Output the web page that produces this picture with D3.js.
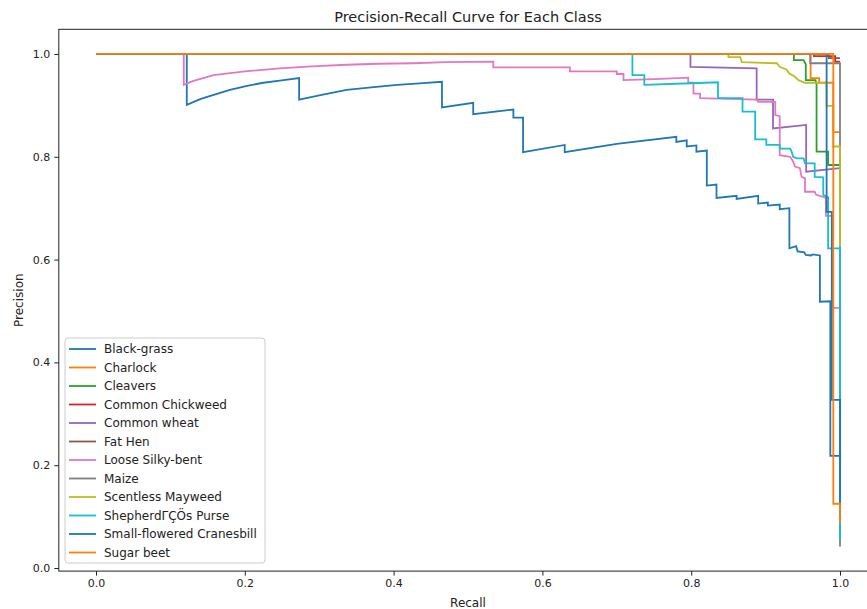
<!DOCTYPE html>
<html>
<head>
<meta charset="utf-8">
<script src="https://cdn.jsdelivr.net/npm/d3@7"></script>
<style>
  html, body { margin: 0; padding: 0; background: #fff; }
  svg { display: block; font-family: "DejaVu Sans", sans-serif; }
</style>
</head>
<body>
<svg id="chart" width="867" height="609"></svg>
<script>
// ---------- data (recall, precision) ----------
const classNames = ["Black-grass", "Charlock", "Cleavers", "Common Chickweed", "Common wheat",
  "Fat Hen", "Loose Silky-bent", "Maize", "Scentless Mayweed", "ShepherdΓÇÖs Purse",
  "Small-flowered Cranesbill", "Sugar beet"];

const blackGrass = [[0,1],[0.122,1],[0.122,0.901],[0.14,0.912],[0.157,0.920],[0.18,0.930],[0.203,0.938],
  [0.225,0.944],[0.247,0.948],[0.273,0.953],[0.273,0.911],[0.305,0.921],[0.337,0.930],[0.37,0.935],
  [0.405,0.940],[0.435,0.943],[0.465,0.946],[0.465,0.896],[0.507,0.905],[0.507,0.883],[0.561,0.892],
  [0.561,0.876],[0.574,0.876],[0.574,0.809],[0.630,0.823],[0.630,0.809],[0.70,0.825],[0.780,0.839],
  [0.780,0.829],[0.794,0.832],[0.794,0.820],[0.807,0.822],[0.807,0.810],[0.821,0.812],[0.821,0.744],
  [0.834,0.746],[0.834,0.720],[0.861,0.724],[0.861,0.718],[0.890,0.724],[0.890,0.709],[0.903,0.711],
  [0.903,0.705],[0.919,0.707],[0.919,0.698],[0.932,0.700],[0.932,0.622],[0.941,0.626],[0.943,0.616],
  [0.952,0.614],[0.954,0.609],[0.961,0.608],[0.963,0.610],[0.973,0.608],[0.973,0.518],[0.987,0.519],
  [0.987,0.218],[1.0,0.218]];
const charlock = [[0,1],[0.9605,1],[0.9605,0.953],[0.972,0.953],[0.972,0.944],[0.991,0.944],
  [0.991,0.848],[1.0,0.848]];
const cleavers = [[0,1],[0.938,1],[0.938,0.988],[0.951,0.988],[0.954,0.980],[0.954,0.949],[0.967,0.949],
  [0.9685,0.941],[0.9685,0.810],[0.984,0.810],[0.984,0.784],[1.0,0.784]];
const commonChickweed = [[0,1],[0.965,1],[0.965,0.996],[0.9935,0.996],[0.9935,0.985],[1.0,0.985]];
const commonWheat = [[0,1],[0.799,1],[0.799,0.975],[0.888,0.972],[0.888,0.911],[0.910,0.911],
  [0.910,0.855],[0.9545,0.862],[0.9545,0.771],[1.0,0.778]];
const fatHen = [[0,1],[0.985,1],[0.985,0.992],[1.0,0.992]];
const looseSilkyBent = [[0,1],[0.118,1],[0.118,0.940],[0.13,0.947],[0.158,0.959],[0.2,0.966],
  [0.247,0.972],[0.29,0.976],[0.337,0.979],[0.38,0.981],[0.426,0.982],[0.47,0.984],[0.534,0.985],
  [0.534,0.974],[0.637,0.974],[0.637,0.966],[0.700,0.966],[0.700,0.961],[0.709,0.961],[0.709,0.949],
  [0.75,0.951],[0.796,0.954],[0.796,0.944],[0.803,0.944],[0.803,0.923],[0.812,0.923],[0.812,0.914],
  [0.888,0.911],[0.890,0.907],[0.913,0.907],[0.913,0.881],[0.919,0.879],[0.919,0.803],[0.933,0.800],
  [0.937,0.791],[0.9395,0.781],[0.946,0.778],[0.9485,0.761],[0.953,0.758],[0.953,0.732],[0.966,0.732],
  [0.968,0.726],[0.9775,0.722],[0.981,0.720],[0.981,0.685],[0.99,0.685],[0.99,0.506],[1.0,0.506]];
const maize = [[0,1],[0.960,1],[0.960,0.982],[1.0,0.982],[1.0,0.042]];
const scentlessMayweed = [[0,1],[0.850,1],[0.850,0.994],[0.866,0.994],[0.868,0.984],[0.915,0.982],
  [0.919,0.975],[0.928,0.970],[0.932,0.962],[0.939,0.956],[0.944,0.949],[0.953,0.944],[0.982,0.944],
  [0.982,0.899],[0.991,0.899],[0.991,0.820],[1.0,0.820],[1.0,0.625]];
const shepherdsPurse = [[0,1],[0.721,1],[0.721,0.959],[0.737,0.959],[0.737,0.940],[0.80,0.943],
  [0.836,0.945],[0.836,0.914],[0.869,0.914],[0.869,0.888],[0.886,0.888],[0.886,0.834],[0.901,0.834],
  [0.901,0.823],[0.919,0.823],[0.919,0.816],[0.933,0.816],[0.935,0.810],[0.937,0.800],[0.942,0.797],
  [0.951,0.797],[0.953,0.787],[0.966,0.787],[0.966,0.761],[0.9775,0.760],[0.9775,0.726],[0.984,0.721],
  [0.984,0.622],[1.0,0.622],[1.0,0.054]];
const smallFloweredCranesbill = [[0,1],[0.982,1],[0.982,0.693],[0.989,0.693],[0.989,0.327],
  [1.0,0.327],[1.0,0.100]];
const sugarBeet = [[0,1],[0.991,1],[0.991,0.125],[1.0,0.125],[1.0,0.087]];

const xTickValues = [0.0, 0.2, 0.4, 0.6, 0.8, 1.0];
const yTickValues = [0.0, 0.2, 0.4, 0.6, 0.8, 1.0];

// ---------- styles ----------
const palette = ["#1f77b4","#ff7f0e","#2ca02c","#d62728","#9467bd","#8c564b","#e377c2","#7f7f7f",
  "#bcbd22","#17becf","#1f77b4","#ff7f0e"];
const curves = [blackGrass, charlock, cleavers, commonChickweed, commonWheat, fatHen, looseSilkyBent,
  maize, scentlessMayweed, shepherdsPurse, smallFloweredCranesbill, sugarBeet];
const series = classNames.map((name, i) => ({ name, points: curves[i], color: palette[i] }));

// ---------- layout ----------
const svg = d3.select("#chart");
const plot = { left: 58.8, right: 877.2, top: 29.3, bottom: 571.1 };

const x = d3.scaleLinear().domain([-0.05, 1.05]).range([plot.left, plot.right]);
const y = d3.scaleLinear().domain([-0.006, 1.048]).range([plot.bottom, plot.top]);

svg.append("defs").append("clipPath").attr("id", "clip")
  .append("rect").attr("x", plot.left).attr("y", plot.top)
  .attr("width", plot.right - plot.left).attr("height", plot.bottom - plot.top);

const line = d3.line().x(d => x(d[0])).y(d => y(d[1]));

const gLines = svg.append("g").attr("clip-path", "url(#clip)");
series.forEach(s => {
  gLines.append("path")
    .datum(s.points)
    .attr("fill", "none")
    .attr("stroke", s.color)
    .attr("stroke-width", 1.8)
    .attr("stroke-linejoin", "miter")
    .attr("stroke-linecap", "butt")
    .attr("d", line);
});

// frame
svg.append("rect")
  .attr("x", plot.left).attr("y", plot.top)
  .attr("width", plot.right - plot.left).attr("height", plot.bottom - plot.top)
  .attr("fill", "none").attr("stroke", "#222").attr("stroke-width", 1);

// axes
const fmt = d3.format(".1f");
const xAxis = svg.append("g")
  .attr("transform", `translate(0,${plot.bottom})`)
  .call(d3.axisBottom(x).tickValues(xTickValues).tickFormat(fmt).tickSize(4.5).tickPadding(4));
const yAxis = svg.append("g")
  .attr("transform", `translate(${plot.left},0)`)
  .call(d3.axisLeft(y).tickValues(yTickValues).tickFormat(fmt).tickSize(4.5).tickPadding(4));
[xAxis, yAxis].forEach(a => {
  a.select(".domain").remove();
  a.selectAll(".tick line").attr("stroke", "#222").attr("stroke-width", 1);
  a.selectAll(".tick text").attr("fill", "#222")
    .style("font-family", "DejaVu Sans").style("font-size", "11px");
});

// title & axis labels
svg.append("text")
  .attr("x", (plot.left + plot.right) / 2).attr("y", 22)
  .attr("text-anchor", "middle").style("font-size", "14.5px").attr("fill", "#222")
  .text("Precision-Recall Curve for Each Class");
svg.append("text")
  .attr("x", (plot.left + plot.right) / 2).attr("y", 607)
  .attr("text-anchor", "middle").style("font-size", "12px").attr("fill", "#222")
  .text("Recall");
svg.append("text")
  .attr("transform", `translate(23,${(plot.top + plot.bottom) / 2}) rotate(-90)`)
  .attr("text-anchor", "middle").style("font-size", "12px").attr("fill", "#222")
  .text("Precision");

// legend
const leg = { x: 65, y: 338, w: 200, h: 225, row: 18.5, first: 349 };
svg.append("rect")
  .attr("x", leg.x).attr("y", leg.y).attr("width", leg.w).attr("height", leg.h)
  .attr("rx", 3).attr("ry", 3)
  .attr("fill", "#fff").attr("fill-opacity", 0.8)
  .attr("stroke", "#cccccc").attr("stroke-width", 1);
const items = svg.append("g").selectAll("g").data(series).join("g")
  .attr("transform", (d, i) => `translate(0,${leg.first + i * leg.row})`);
items.append("line")
  .attr("x1", 69).attr("x2", 96).attr("y1", 0).attr("y2", 0)
  .attr("stroke", d => d.color).attr("stroke-width", 1.8);
items.append("text")
  .attr("x", 104).attr("y", 0).attr("dy", "0.35em")
  .style("font-size", "12px").attr("fill", "#222")
  .text(d => d.name);
</script>
</body>
</html>
